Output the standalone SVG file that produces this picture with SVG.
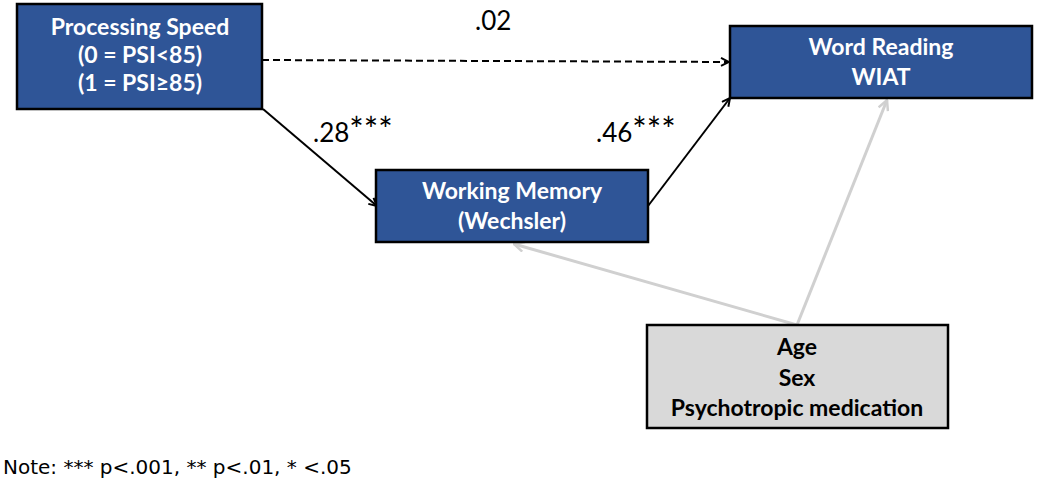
<svg xmlns="http://www.w3.org/2000/svg" width="1050" height="485" viewBox="0 0 1050 485">
<defs>
<marker id="ah" viewBox="0 0 10 10" refX="9" refY="5" markerWidth="10" markerHeight="10" markerUnits="userSpaceOnUse" orient="auto">
<path d="M1,1 L9,5 L1,9" fill="none" stroke="#000" stroke-width="2"/>
</marker>
<marker id="ag" viewBox="0 0 12 12" refX="11" refY="6" markerWidth="12" markerHeight="12" markerUnits="userSpaceOnUse" orient="auto">
<path d="M1,1 L11,6 L1,11" fill="none" stroke="#d0d0d0" stroke-width="2.5"/>
</marker>
</defs>
<style>
.blue{fill:#2f5597;stroke:#000;stroke-width:2.5}
.grey{fill:#d9d9d9;stroke:#000;stroke-width:2.5}
.bt{font-family:Lato,"Open Sans",sans-serif;font-weight:bold;font-size:23px;fill:#fff;text-anchor:middle}
.gt{font-family:Lato,"Open Sans",sans-serif;font-weight:bold;font-size:23px;fill:#000;text-anchor:middle}
.lab{font-family:Lato,"Open Sans",sans-serif;font-size:26px;fill:#000}
.ast{font-size:34px}
.note{font-family:"DejaVu Sans",sans-serif;font-size:20px;fill:#000}
.c{fill:none;stroke:#000;stroke-width:2}
.cg{fill:none;stroke:#d0d0d0;stroke-width:3}
</style>
<g id="connectors">
<line class="c" x1="262" y1="60" x2="729" y2="62" stroke-dasharray="7,4" marker-end="url(#ah)"/>
<line class="c" x1="263" y1="109" x2="377" y2="206" marker-end="url(#ah)"/>
<line class="c" x1="648" y1="206" x2="730" y2="98" marker-end="url(#ah)"/>
<line class="cg" x1="797" y1="325" x2="514" y2="244" marker-end="url(#ag)"/>
<line class="cg" x1="797" y1="325" x2="887" y2="100" marker-end="url(#ag)"/>
</g>
<g id="processing-speed">
<rect class="blue" x="17" y="4" width="245" height="105"/>
<text class="bt" x="140" y="35">Processing Speed</text>
<text class="bt" x="140" y="63">(0 = PSI&lt;85)</text>
<text class="bt" x="140" y="91">(1 = PSI≥85)</text>
</g>
<g id="word-reading">
<rect class="blue" x="730" y="26" width="302" height="72"/>
<text class="bt" x="881" y="55">Word Reading</text>
<text class="bt" x="881" y="85">WIAT</text>
</g>
<g id="working-memory">
<rect class="blue" x="376" y="170" width="272" height="72"/>
<text class="bt" x="512" y="199">Working Memory</text>
<text class="bt" x="512" y="229">(Wechsler)</text>
</g>
<g id="covariates">
<rect class="grey" x="647" y="325" width="301" height="103"/>
<text class="gt" x="797" y="355">Age</text>
<text class="gt" x="797" y="386">Sex</text>
<text class="gt" x="797" y="416">Psychotropic medication</text>
</g>
<g id="labels">
<text class="lab" x="475" y="30">.02</text>
<text class="lab" x="313" y="142">.28<tspan class="ast">***</tspan></text>
<text class="lab" x="596" y="142">.46<tspan class="ast">***</tspan></text>
<text class="note" x="3" y="474">Note: *** p&lt;.001, ** p&lt;.01, * &lt;.05</text>
</g>
</svg>
